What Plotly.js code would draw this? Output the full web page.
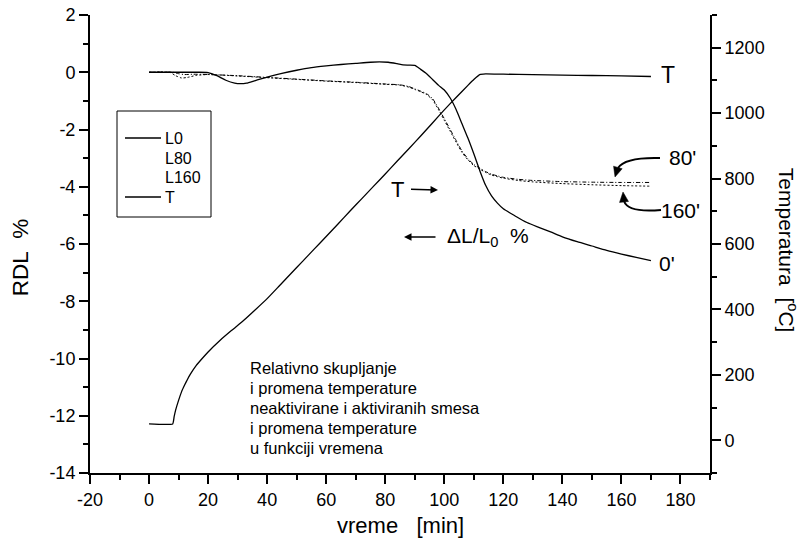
<!DOCTYPE html>
<html>
<head>
<meta charset="utf-8">
<script src="https://cdn.plot.ly/plotly-3.0.1.min.js"></script>
<style>html,body{margin:0;padding:0;background:#fff;}#chart{width:802px;height:547px;}</style>
</head>
<body>
<div id="chart"></div>
<script>
// ---- data ----
const tL0 = [0,5,10,15,20,23,26,29,31,33,36,40,45,50,55,60,65,70,75,78,81,84,86,88,90,92,94,96,98,100,102,104,106,108,110,112,114,116,118,120,124,128,132,136,140,145,150,155,160,165,170];
const L0  = [0,0,0,0,-0.01,-0.12,-0.28,-0.38,-0.40,-0.38,-0.29,-0.17,-0.04,0.07,0.16,0.22,0.27,0.31,0.35,0.36,0.35,0.30,0.26,0.25,0.24,0.10,-0.05,-0.25,-0.45,-0.62,-0.90,-1.30,-1.80,-2.30,-2.85,-3.43,-3.95,-4.32,-4.57,-4.77,-5.02,-5.25,-5.42,-5.58,-5.75,-5.92,-6.07,-6.22,-6.35,-6.47,-6.58];

const tL80 = [0,8,10,12,15,20,30,40,50,60,70,80,85,88,90,92,94,96,98,100,102,104,106,108,110,112,114,116,118,120,125,130,140,150,160,170];
const L80  = [0,0,-0.05,-0.08,-0.07,-0.08,-0.12,-0.18,-0.24,-0.30,-0.35,-0.41,-0.44,-0.50,-0.58,-0.66,-0.75,-0.92,-1.25,-1.62,-2.00,-2.38,-2.75,-3.02,-3.22,-3.35,-3.47,-3.56,-3.62,-3.67,-3.74,-3.78,-3.82,-3.84,-3.85,-3.85];

const tL160 = [0,7,9,11,13,16,20,30,40,50,60,70,80,85,88,90,92,94,96,98,100,102,104,106,108,110,112,114,116,118,120,125,130,140,150,160,170];
const L160  = [0,0,-0.12,-0.20,-0.18,-0.11,-0.08,-0.13,-0.19,-0.25,-0.31,-0.36,-0.42,-0.45,-0.52,-0.60,-0.68,-0.78,-0.96,-1.30,-1.68,-2.06,-2.44,-2.80,-3.06,-3.26,-3.38,-3.50,-3.59,-3.65,-3.70,-3.78,-3.83,-3.89,-3.93,-3.96,-3.98];

const tT = [0,8,8.5,9,10,11,12,13,14,16,18,20,24,28,32,36,40,44,48,52,56,60,64,68,72,76,80,84,88,92,96,100,104,108,110,112,114,120,130,140,150,160,170];
const T  = [50,50,72,92,122,148,168,186,202,229,250,270,305,336,366,399,433,471,509,547,585,623,661,700,738,776,814,853,891,930,970,1010,1048,1085,1103,1118,1120,1119,1118,1116,1115,1114,1112];

const xTicks = [-20,0,20,40,60,80,100,120,140,160,180];
const yTicks = [-14,-12,-10,-8,-6,-4,-2,0,2];
const y2Ticks = [0,200,400,600,800,1000,1200];
const legendNames = ['L0','L80','L160','T'];
const legendHasLine = [true,false,false,true];
const noteLines = ["Relativno skupljanje","i promena temperature","neaktivirane i aktiviranih smesa","i promena temperature","u funkciji vremena"];

const FONT = '"Liberation Sans", Arial, sans-serif';
const black = '#000';

// plot-area geometry (for decorations only)
const M = {l:90, r:92, t:15, b:74};
const W = 802, H = 547;
const XR = [-20,190], YR = [-14,2];
const pw = W - M.l - M.r, ph = H - M.t - M.b;
const px2x = px => XR[0] + (px - M.l) * (XR[1]-XR[0]) / pw;
const py2y = py => YR[1] - (py - M.t) * (YR[1]-YR[0]) / ph;
const px2p = px => (px - M.l) / pw;
const py2p = py => (H - M.b - py) / ph;
const P = (px,py) => px2x(px).toFixed(3) + ',' + py2y(py).toFixed(3);
function arrowHead(tx, ty, dx, dy, len, hw){
  const n = Math.hypot(dx,dy); dx/=n; dy/=n;
  const bx = tx - len*dx, by = ty - len*dy;
  const qx = -dy, qy = dx;
  return 'M ' + P(tx,ty) + ' L ' + P(bx+hw*qx, by+hw*qy) + ' L ' + P(bx-hw*qx, by-hw*qy) + ' Z';
}

const traces = [
  {x:tL0, y:L0, name:'L0', mode:'lines', line:{color:black, width:1.3, shape:'spline', smoothing:0.6}},
  {x:tL80, y:L80, name:'L80', mode:'lines', line:{color:black, width:1, dash:'4px,2px,1px,2px', shape:'spline', smoothing:0.6}},
  {x:tL160, y:L160, name:'L160', mode:'lines', line:{color:black, width:1, dash:'2px,2px', shape:'spline', smoothing:0.6}},
  {x:tT, y:T, name:'T', yaxis:'y2', mode:'lines', line:{color:black, width:1.3, shape:'spline', smoothing:0.4}}
];

const axisCommon = {
  showline:true, linecolor:black, linewidth:2, showgrid:false, zeroline:false,
  ticks:'outside', ticklen:9, tickwidth:2, tickcolor:black,
  tickfont:{family:FONT, size:18, color:black}
};

const ann = [];
function A(o){ ann.push(Object.assign({showarrow:false, font:{family:FONT, size:21, color:black}}, o)); }

// titles
A({xref:'paper', yref:'paper', x:0.5, y:-0.114, text:'vreme\u00a0\u00a0\u00a0[min]', font:{family:FONT,size:22,color:black}, xanchor:'center', yanchor:'middle'});
A({xref:'paper', yref:'paper', x:-0.113, y:0.471, text:'RDL\u00a0\u00a0%', textangle:-90, font:{family:FONT,size:22.5,color:black}, xanchor:'center', yanchor:'middle'});
A({xref:'paper', yref:'paper', x:1.126, y:0.487, text:'Temperatura\u00a0\u00a0[<sup>o</sup>C]', textangle:90, font:{family:FONT,size:21,color:black}, xanchor:'center', yanchor:'middle'});

// curve labels
A({xref:'x', yref:'y', x:px2x(668), y:py2y(75), text:'T', font:{family:FONT,size:23,color:black}, xanchor:'center', yanchor:'middle'});
A({xref:'x', yref:'y', x:px2x(667), y:py2y(157), text:"80'", xanchor:'left', yanchor:'middle'});
A({xref:'x', yref:'y', x:px2x(659), y:py2y(210), text:"160'", xanchor:'left', yanchor:'middle'});
A({xref:'x', yref:'y', x:px2x(657), y:py2y(263), text:"0'", xanchor:'left', yanchor:'middle'});

// "T ->" : text with arrow pointing right
ann.push({xref:'x', yref:'y', x:px2x(438), y:py2y(190), ax:-41, ay:-1, text:'T', font:{family:FONT,size:22,color:black},
  showarrow:true, arrowhead:2, arrowsize:1, arrowwidth:1.5, arrowcolor:black, startstandoff:6});
// "<- dL/L0 %" : text with arrow pointing left
ann.push({xref:'x', yref:'y', x:px2x(404), y:py2y(237), ax:84, ay:0, text:'\u0394L/L<sub>0</sub>\u00a0\u00a0%', font:{family:FONT,size:21,color:black},
  showarrow:true, arrowhead:2, arrowsize:1, arrowwidth:1.5, arrowcolor:black, startstandoff:10});

// note text
noteLines.forEach((s,i)=>{
  A({xref:'x', yref:'y', x:px2x(248), y:py2y(368 + 20*i), text:s, font:{family:FONT,size:16.5,color:black}, xanchor:'left', yanchor:'middle'});
});

const shapes = [
  {type:'path', xref:'x', yref:'y', path:'M ' + P(660,158) + ' Q ' + P(625,157) + ' ' + P(618,168), line:{color:black, width:2}},
  {type:'path', xref:'x', yref:'y', path:arrowHead(615,177,-0.3,1,10,4.5), fillcolor:black, line:{color:black, width:0.5}},
  {type:'path', xref:'x', yref:'y', path:'M ' + P(661,210) + ' Q ' + P(628,213) + ' ' + P(624,201), line:{color:black, width:2}},
  {type:'path', xref:'x', yref:'y', path:arrowHead(623,192,-0.1,-1,10,4.5), fillcolor:black, line:{color:black, width:0.5}}
];

// legend box (drawn as in the reference: L80/L160 show no line sample)
shapes.push({type:'rect', xref:'paper', yref:'paper', x0:px2p(117), x1:px2p(211), y0:py2p(217), y1:py2p(111),
  line:{color:black, width:1}, fillcolor:'#fff', layer:'below'});
const legY = [138, 158, 177, 197];
legendNames.forEach((nm,i)=>{
  if (legendHasLine[i]) shapes.push({type:'line', xref:'paper', yref:'paper', x0:px2p(125), x1:px2p(161), y0:py2p(legY[i]), y1:py2p(legY[i]), line:{color:black, width:1.3}});
  A({xref:'paper', yref:'paper', x:px2p(163), y:py2p(legY[i]), text:nm, font:{family:FONT,size:16,color:black}, xanchor:'left', yanchor:'middle'});
});

const layout = {
  width:W, height:H,
  margin:{l:M.l, r:M.r, t:M.t, b:M.b, pad:0},
  paper_bgcolor:'#fff', plot_bgcolor:'rgba(0,0,0,0)',
  showlegend:false,
  xaxis:Object.assign({}, axisCommon, {range:XR, tickmode:'array', tickvals:xTicks, ticktext:xTicks.map(String),
          minor:{dtick:10, tick0:0, ticks:'outside', ticklen:5, tickwidth:2, tickcolor:black}}),
  yaxis:Object.assign({}, axisCommon, {range:YR, tickmode:'array', tickvals:yTicks, ticktext:yTicks.map(String),
          minor:{dtick:1, tick0:0, ticks:'outside', ticklen:5, tickwidth:2, tickcolor:black}}),
  yaxis2:Object.assign({}, axisCommon, {overlaying:'y', side:'right', range:[-100,1300], tickmode:'array', tickvals:y2Ticks, ticktext:y2Ticks.map(String),
          minor:{dtick:100, tick0:0, ticks:'outside', ticklen:5, tickwidth:2, tickcolor:black}}),
  annotations:ann,
  shapes:shapes,
  font:{family:FONT, color:black}
};

Plotly.newPlot('chart', traces, layout, {displayModeBar:false, staticPlot:true});
</script>
</body>
</html>
